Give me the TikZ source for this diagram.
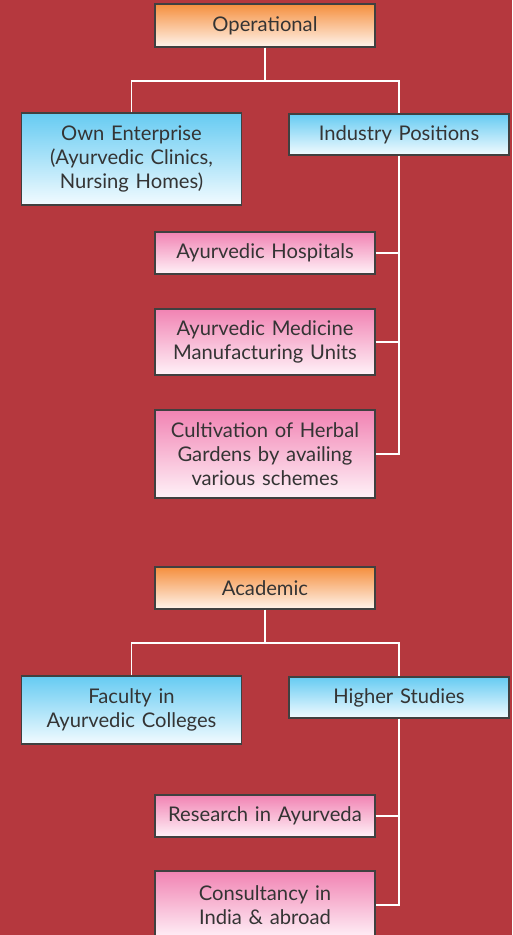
\documentclass[tikz,border=0pt]{standalone}
\usepackage{fontspec}
\setmainfont{Lato}
\definecolor{bgred}{RGB}{181,56,62}
\definecolor{txt}{RGB}{52,52,52}
\definecolor{bord}{RGB}{64,64,64}
\definecolor{orgtop}{RGB}{245,143,62}
\definecolor{orgbot}{RGB}{255,244,236}
\definecolor{blutop}{RGB}{102,203,242}
\definecolor{blubot}{RGB}{242,251,255}
\definecolor{pnktop}{RGB}{241,131,179}
\definecolor{pnkbot}{RGB}{255,242,248}
\tikzset{
  box/.style={draw=bord, line width=1.2pt, text=txt, align=center,
    minimum width=220pt, inner sep=0pt, text width=218pt,
    font=\fontsize{20.2}{23.8}\selectfont},
  orgbox/.style={box, top color=orgtop, bottom color=orgbot},
  blubox/.style={box, top color=blutop, bottom color=blubot},
  pnkbox/.style={box, top color=pnktop, bottom color=pnkbot},
  wire/.style={draw=white, line width=1.6pt}
}
\begin{document}
\begin{tikzpicture}[x=1pt,y=-1pt]
\useasboundingbox[fill=bgred] (0,0) rectangle (512,935);
\clip (0,0) rectangle (512,935);
% Operational group
\node[orgbox, minimum height=43pt] (op) at (265,25.5) {Operational};
\node[blubox, minimum height=92pt] (own) at (131.5,159) {Own Enterprise\\(Ayurvedic Clinics,\\Nursing Homes)};
\node[blubox, minimum height=41pt] (ind) at (399,134.5) {Industry Positions};
\node[pnkbox, minimum height=42pt] (hosp) at (265,253) {Ayurvedic Hospitals};
\node[pnkbox, minimum height=66pt] (manu) at (265,342) {Ayurvedic Medicine\\Manufacturing Units};
\node[pnkbox, minimum height=88pt] (cult) at (265,454) {Cultivation of Herbal\\Gardens by availing\\various schemes};
\coordinate (j1) at (265,81);
\draw[wire] (op.south) -- (j1);
\draw[wire] (own.north) |- (j1) -| (ind.north);
\draw[wire] (ind.south) |- (cult.east);
\draw[wire] (hosp.east) -- (hosp.east -| ind.south);
\draw[wire] (manu.east) -- (manu.east -| ind.south);
% Academic group
\node[orgbox, minimum height=42pt] (ac) at (265,588) {Academic};
\node[blubox, minimum height=68pt] (fac) at (131.5,710) {Faculty in\\Ayurvedic Colleges};
\node[blubox, minimum height=41pt] (hs) at (399,697.5) {Higher Studies};
\node[pnkbox, minimum height=42pt] (res) at (265,816) {Research in Ayurveda};
\node[pnkbox, minimum height=68pt] (cons) at (265,905) {Consultancy in\\India \& abroad};
\coordinate (j2) at (265,643);
\draw[wire] (ac.south) -- (j2);
\draw[wire] (fac.north) |- (j2) -| (hs.north);
\draw[wire] (hs.south) |- (cons.east);
\draw[wire] (res.east) -- (res.east -| hs.south);
\end{tikzpicture}
\end{document}
